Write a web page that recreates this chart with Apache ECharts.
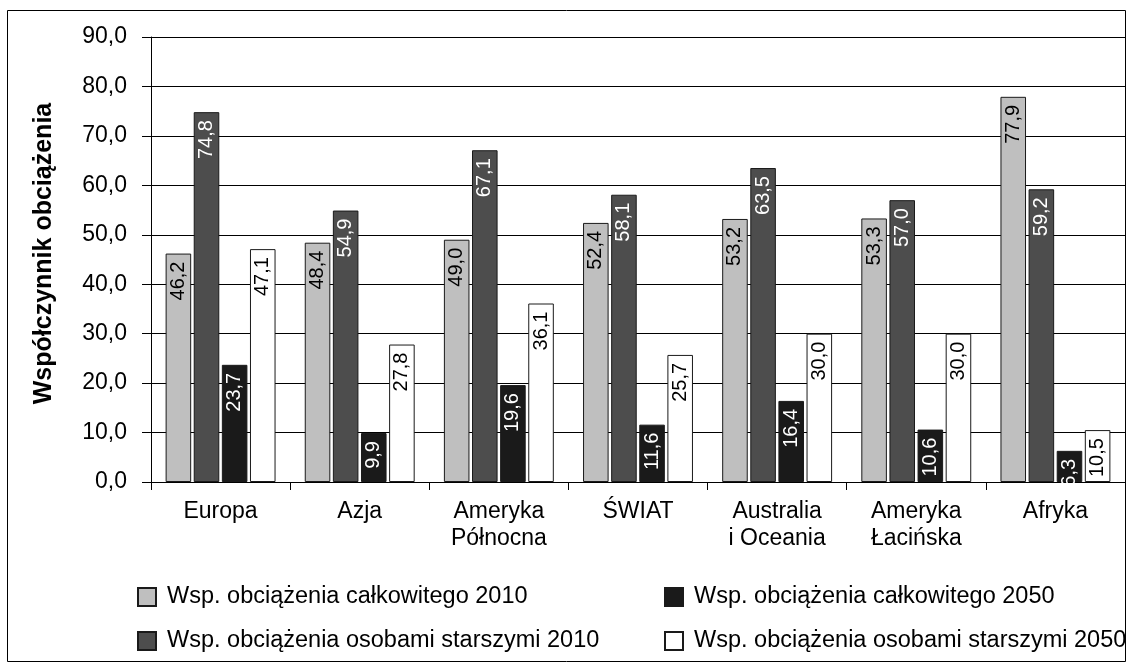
<!DOCTYPE html>
<html>
<head>
<meta charset="utf-8">
<script src="https://cdn.jsdelivr.net/npm/echarts@6/dist/echarts.min.js"></script>
<style>
html,body{margin:0;padding:0;background:#fff;}
#c{width:1136px;height:664px;}
</style>
</head>
<body>
<div id="c"></div>
<script>
var categories = ['Europa', 'Azja', 'Ameryka\nPółnocna', 'ŚWIAT', 'Australia\ni Oceania', 'Ameryka\nŁacińska', 'Afryka'];
var totalDep2010 = [46.2, 48.4, 49.0, 52.4, 53.2, 53.3, 77.9];
var oldDep2010 = [74.8, 54.9, 67.1, 58.1, 63.5, 57.0, 59.2];
var totalDep2050 = [23.7, 9.9, 19.6, 11.6, 16.4, 10.6, 6.3];
var oldDep2050 = [47.1, 27.8, 36.1, 25.7, 30.0, 30.0, 10.5];
var seriesNames = [
  'Wsp. obciążenia całkowitego 2010',
  'Wsp. obciążenia osobami starszymi 2010',
  'Wsp. obciążenia całkowitego 2050',
  'Wsp. obciążenia osobami starszymi 2050'
];
var yTitle = 'Współczynnik obciążenia';

var FONT = "'Liberation Sans', Arial, sans-serif";
function fmt(v) { return Number(v).toFixed(1).replace('.', ','); }

function barSeries(name, data, fill, textColor) {
  return {
    name: name,
    type: 'bar',
    data: data,
    barCategoryGap: '21%',
    barGap: '10%',
    itemStyle: { color: fill, borderColor: '#1a1a1a', borderWidth: 1 },
    label: {
      show: true,
      position: 'insideTop',
      rotate: 90,
      align: 'right',
      verticalAlign: 'middle',
      distance: 8,
      fontFamily: FONT,
      fontSize: 20,
      color: textColor,
      formatter: function (p) { return fmt(p.value); }
    }
  };
}

var chart = echarts.init(document.getElementById('c'), null, { renderer: 'canvas' });
chart.setOption({
  animation: false,
  backgroundColor: '#fff',
  textStyle: { fontFamily: FONT },
  grid: { left: 151, right: 11, top: 37, bottom: 182, containLabel: false },
  graphic: [{
    type: 'rect',
    shape: { x: 7.5, y: 10.5, width: 1118, height: 651 },
    style: { fill: 'none', stroke: '#000', lineWidth: 1 },
    silent: true,
    z: 100
  }],
  legend: [{
    data: [seriesNames[0], seriesNames[1]],
    orient: 'vertical',
    left: 132,
    top: 580,
    itemWidth: 18,
    itemHeight: 18,
    itemGap: 20,
    icon: 'rect',
    textStyle: { fontFamily: FONT, fontSize: 23.5, color: '#000', padding: [0, 0, 0, 6] }
  }, {
    data: [seriesNames[2], seriesNames[3]],
    orient: 'vertical',
    left: 659,
    top: 580,
    itemWidth: 18,
    itemHeight: 18,
    itemGap: 20,
    icon: 'rect',
    textStyle: { fontFamily: FONT, fontSize: 23.5, color: '#000', padding: [0, 0, 0, 6] }
  }],
  xAxis: {
    type: 'category',
    data: categories,
    axisLine: { show: true, lineStyle: { color: '#000', width: 1 } },
    axisTick: { show: true, alignWithLabel: false, length: 8, lineStyle: { color: '#000' } },
    axisLabel: { fontFamily: FONT, fontSize: 23, lineHeight: 27, color: '#000', margin: 16, interval: 0 }
  },
  yAxis: {
    type: 'value',
    min: 0,
    max: 90,
    interval: 10,
    name: yTitle,
    nameLocation: 'middle',
    nameGap: 94,
    nameTextStyle: { fontFamily: FONT, fontSize: 25, fontWeight: 'bold', color: '#000', padding: [0, 0, 0, 12] },
    axisLine: { show: true, lineStyle: { color: '#000', width: 1 } },
    axisTick: { show: true, length: 9, lineStyle: { color: '#000' } },
    axisLabel: { fontFamily: FONT, fontSize: 23, color: '#000', margin: 24, formatter: fmt },
    splitLine: { show: true, lineStyle: { color: '#000', width: 1 } }
  },
  series: [
    barSeries(seriesNames[0], totalDep2010, '#bfbfbf', '#000'),
    barSeries(seriesNames[1], oldDep2010, '#4d4d4d', '#fff'),
    barSeries(seriesNames[2], totalDep2050, '#1a1a1a', '#fff'),
    barSeries(seriesNames[3], oldDep2050, '#ffffff', '#000')
  ]
});
</script>
</body>
</html>
